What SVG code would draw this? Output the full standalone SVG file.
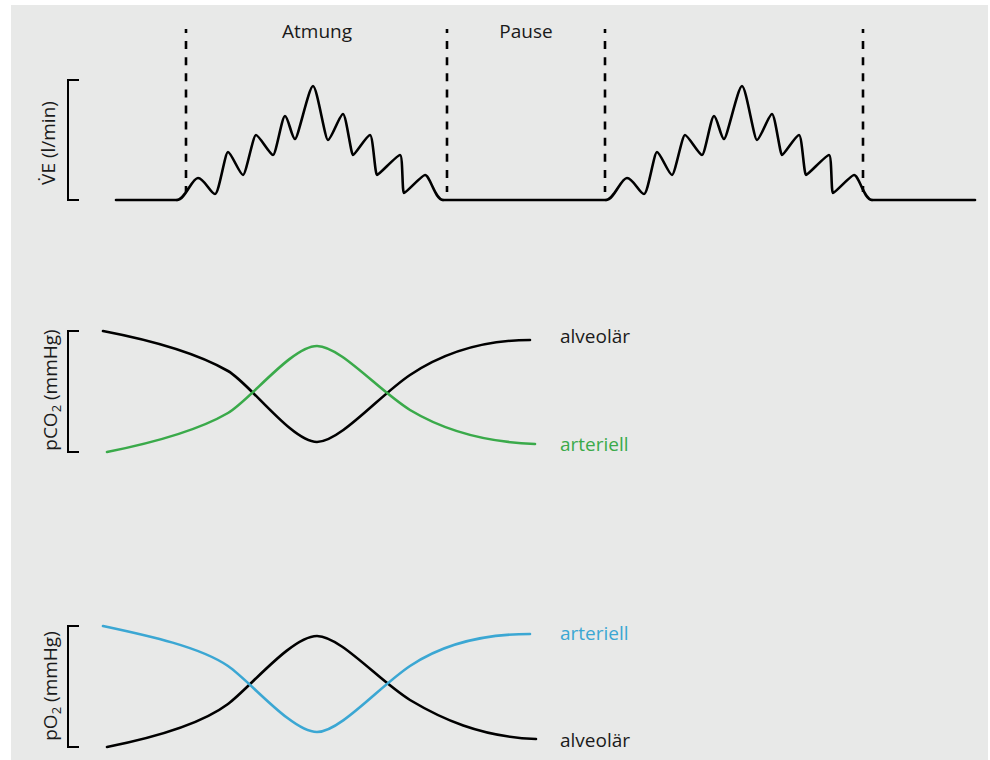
<svg xmlns="http://www.w3.org/2000/svg" xmlns:xlink="http://www.w3.org/1999/xlink" width="990" height="760" viewBox="0 0 990 760">
<style>
.bg{fill:#e8e9e8}
.curve{fill:none;stroke-width:2.6;stroke-linecap:round;stroke-linejoin:round}
.k{stroke:#000}
.g{stroke:#3aaa4a}
.b{stroke:#3ba7d3}
.dash{stroke:#000;stroke-width:2.6;stroke-dasharray:8 8.1;stroke-dashoffset:4;fill:none}
.brk{fill:none;stroke:#000;stroke-width:2}
.t{font-family:"Open Sans","Noto Sans","Liberation Sans",sans-serif;font-size:19px;fill:#1a1a1a}
.tg{fill:#3aaa4a}
.tb{fill:#3ba7d3}
</style>
<defs>
<path id="cycle" d="M177,200 C185,200 192,178 198,178 C204,178 211,194 215,194 C219,194 225,152 228,152 C231,152 240,175 243,175 C246,175 253,135 256,135 C259,135 270,155 273,155 C276,155 282,116 285,116 C288,116 292,139 295,139 C298,139 309,86 313,86 C317,86 325,140 328,140 C331,140 340,114 343,114 C346,114 351,155 353,155 C355,155 367,135 370,135 C373,135 375,175 377,175 C379,175 397,155 400,155 C403,155 402,193 404,193 C406,193 422,175 425,175 C430,175 435,200 443,200"/>
</defs>
<rect class="bg" x="11" y="5" width="977" height="755"/>

<g id="panel-ventilation">
<path class="brk" d="M79,80 H68 V200 H79"/>
<text class="t" transform="translate(55,143) rotate(-90)" text-anchor="middle">V&#x307;E (l/min)</text>
<g id="phase-lines">
<line class="dash" x1="186" y1="29" x2="186" y2="192"/>
<line class="dash" x1="447" y1="29" x2="447" y2="192"/>
<line class="dash" x1="605" y1="29" x2="605" y2="192"/>
<line class="dash" x1="863" y1="29" x2="863" y2="192"/>
</g>
<text class="t" x="317" y="38" text-anchor="middle">Atmung</text>
<text class="t" x="526" y="38" text-anchor="middle">Pause</text>
<g id="ve-trace" class="curve k">
<path d="M116,200 H177"/>
<use xlink:href="#cycle"/>
<path d="M443,200 H606"/>
<use xlink:href="#cycle" transform="translate(429,0)"/>
<path d="M872,200 H975"/>
</g>
</g>

<g id="panel-pco2">
<path class="brk" d="M79,331 H68 V452 H79"/>
<text class="t" transform="translate(57,390) rotate(-90)" text-anchor="middle">pCO<tspan font-size="13" dy="4">2</tspan><tspan dy="-4"> (mmHg)</tspan></text>
<path class="curve k" d="M103,331 C150,340 195,352 228,371 C250,383.7 292,442 317,442 C340,442 380,395 410,375 C440,355 480,340 530,340"/>
<path class="curve g" d="M107,452 C152,443 197,431 228,413 C250,400.2 292,346 317,346 C340,346 378,390 410,410 C440,428 480,442 535,444"/>
<text class="t" x="560" y="343">alveolär</text>
<text class="t tg" x="560" y="451">arteriell</text>
</g>

<g id="panel-po2">
<path class="brk" d="M79,626 H68 V747 H79"/>
<text class="t" transform="translate(57,686) rotate(-90)" text-anchor="middle">pO<tspan font-size="13" dy="4">2</tspan><tspan dy="-4"> (mmHg)</tspan></text>
<path class="curve k" d="M107,747 C152,738 200,725 228,704 C250,687.5 292,636 317,636 C340,636 378,680 410,700 C440,718 480,737 536,739"/>
<path class="curve b" d="M103,626 C150,636 200,647 228,666 C250,681 292,732 317,732 C340,732 380,686 410,666 C440,646 480,634 530,634"/>
<text class="t tb" x="560" y="640">arteriell</text>
<text class="t" x="560" y="747">alveolär</text>
</g>
</svg>
